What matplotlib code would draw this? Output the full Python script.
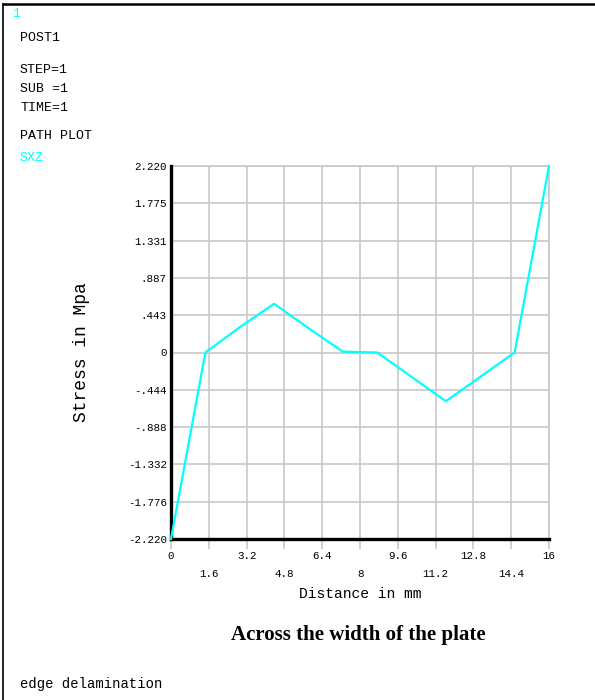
import matplotlib
matplotlib.use("Agg")
import matplotlib.pyplot as plt
from matplotlib.lines import Line2D
from matplotlib.ticker import FixedLocator

# path plot values
distance_mm = [0, 1.455, 2.909, 4.364, 5.818, 7.273, 8.727, 10.182, 11.636, 13.091, 14.545, 16]
sxz_mpa = [-2.22, 0.0, 0.30, 0.58, 0.29, 0.01, 0.0, -0.29, -0.58, -0.29, 0.0, 2.22]

ytick_vals = [2.22, 1.775, 1.331, 0.887, 0.443, 0, -0.444, -0.888, -1.332, -1.776, -2.22]
ytick_labels = ["2.220", "1.775", "1.331", ".887", ".443", "0", "-.444", "-.888", "-1.332", "-1.776", "-2.220"]
xtick_major = [0, 3.2, 6.4, 9.6, 12.8, 16]
xtick_major_labels = ["0", "3.2", "6.4", "9.6", "12.8", "16"]
xtick_minor = [1.6, 4.8, 8, 11.2, 14.4]
xtick_minor_labels = ["1.6", "4.8", "8", "11.2", "14.4"]

header_lines = ["POST1", "STEP=1", "SUB =1", "TIME=1", "PATH PLOT"]
header_y = [38, 70, 89, 108, 136]

mono = "Liberation Mono"
cyan = "#00ffff"
grid_c = "#c8c8c8"

fig = plt.figure(figsize=(5.95, 7.0), dpi=100)
W, H = 595, 700
ax = fig.add_axes([171 / W, 1 - 539 / H, 378 / W, 373 / H])

ax.plot(distance_mm, sxz_mpa, color=cyan, lw=1.6, zorder=5, clip_on=False)
ax.set_xlim(0, 16)
ax.set_ylim(-2.22, 2.22)

ax.set_yticks(ytick_vals)
ax.set_yticklabels(ytick_labels, family=mono, fontsize=7.8)
ax.tick_params(axis="y", length=0, pad=3)

ax.xaxis.set_major_locator(FixedLocator(xtick_major))
ax.set_xticklabels(xtick_major_labels, family=mono, fontsize=7.8)
ax.xaxis.set_minor_locator(FixedLocator(xtick_minor))
ax.set_xticklabels(xtick_minor_labels, minor=True, family=mono, fontsize=7.8)
ax.tick_params(axis="x", which="major", length=7.5, width=1.2, color=grid_c, pad=1)
ax.tick_params(axis="x", which="minor", length=7.5, width=1.2, color=grid_c, pad=14)

ax.grid(True, which="both", color=grid_c, lw=1.2)
ax.set_axisbelow(True)
for s in ["top", "right"]:
    ax.spines[s].set_color(grid_c)
    ax.spines[s].set_linewidth(1.2)
for s in ["left", "bottom"]:
    ax.spines[s].set_color("black")
    ax.spines[s].set_linewidth(2.4)
    ax.spines[s].set_zorder(4)

ax.set_xlabel("Distance in mm", family=mono, fontsize=10.5, labelpad=6)
ax.set_ylabel("Stress in Mpa", family=mono, fontsize=13, labelpad=27)

fig.text(358 / W, 1 - 635 / H, "Across the width of the plate", family="Liberation Serif",
         weight="bold", fontsize=15, ha="center", va="center")

fig.text(12 / W, 1 - 14 / H, "1", family=mono, fontsize=9.5, color=cyan, va="center")
for txt, yy in zip(header_lines, header_y):
    fig.text(20 / W, 1 - yy / H, txt, family=mono, fontsize=9.5, va="center")
fig.text(20 / W, 1 - 158 / H, "SXZ", family=mono, fontsize=9.5, color=cyan, va="center")
fig.text(20 / W, 1 - 684 / H, "edge delamination", family=mono, fontsize=10, va="center")

# screen frame (top and left edges)
fig.add_artist(Line2D([3 / W, 1], [1 - 4 / H, 1 - 4 / H], color="black", lw=1.8, transform=fig.transFigure))
fig.add_artist(Line2D([3 / W, 3 / W], [0, 1 - 4 / H], color="black", lw=1.2, transform=fig.transFigure))

fig.savefig("out.png", dpi=100)
